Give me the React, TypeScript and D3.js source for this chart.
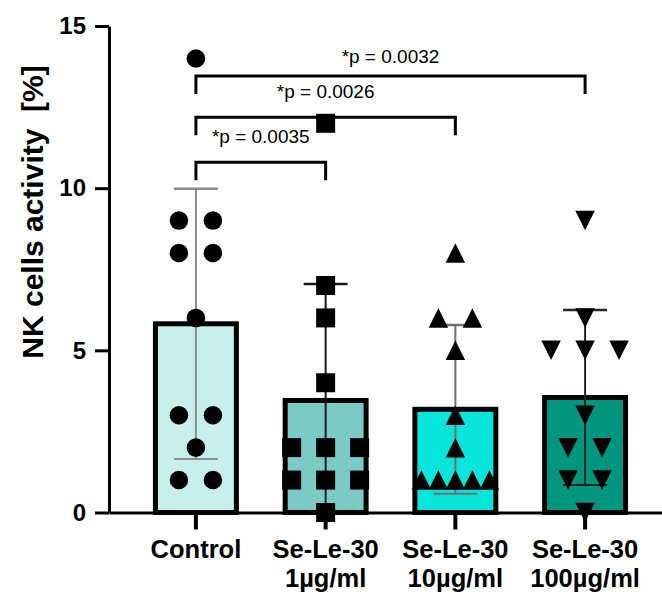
import React, { useRef, useEffect } from "react";
import * as d3 from "d3";

// groups and their two-line axis labels
const groups = ["Control", "Se-Le-30 1µg/ml", "Se-Le-30 10µg/ml", "Se-Le-30 100µg/ml"];
const labelLine1 = ["Control", "Se-Le-30", "Se-Le-30", "Se-Le-30"];
const labelLine2 = ["", "1µg/ml", "10µg/ml", "100µg/ml"];

// individual values
const control = [14, 9, 9, 8, 8, 6, 3, 3, 2, 1, 1];
const se1 = [12, 7, 6, 4, 2, 2, 2, 1, 1, 1, 0];
const se10 = [8, 6, 6, 5, 3, 2, 1, 1, 1, 1, 1];
const se100 = [9, 6, 5, 5, 5, 3, 2, 2, 1, 1, 0];

const yTicks = [0, 5, 10, 15];

// significance brackets
const compFrom = [0, 0, 0];
const compTo = [1, 2, 3];
const compLevel = [10.8, 12.19, 13.46];
const compTextLevel = [11.38, 12.77, 13.85];
const compText = ["*p = 0.0035", "*p = 0.0026", "*p = 0.0032"];

const fills = ["#c6efed", "#7acbc5", "#08e6db", "#00967e"];
const errColors = ["#8c8c8c", "#1a1a1a", "#707070", "#262626"];

const FONT = "'Liberation Sans', Arial, Helvetica, sans-serif";

const triUp = {
    draw(ctx: any, size: number) {
        const w = Math.sqrt(size);
        ctx.moveTo(0, -w / 2);
        ctx.lineTo(w / 2, w / 2);
        ctx.lineTo(-w / 2, w / 2);
        ctx.closePath();
    }
};
const triDown = {
    draw(ctx: any, size: number) {
        const w = Math.sqrt(size);
        ctx.moveTo(0, w / 2);
        ctx.lineTo(w / 2, -w / 2);
        ctx.lineTo(-w / 2, -w / 2);
        ctx.closePath();
    }
};

// spread equal values side by side
const spread = (vals: number[]) => {
    const counts = d3.rollup(vals, v => v.length, d => d);
    const seen = new Map<number, number>();
    return vals.map(v => {
        const k = counts.get(v) as number;
        const i = seen.get(v) ?? 0;
        seen.set(v, i + 1);
        const gap = k >= 4 ? 17 : 34;
        return { v, dx: (i - (k - 1) / 2) * gap };
    });
};

const App = () => {
    const chartRef = useRef<HTMLDivElement>(null);

    useEffect(() => {
        const width = 662;
        const height = 596;
        const series = [control, se1, se10, se100];
        const symbols = [
            d3.symbol(d3.symbolCircle, 270),
            d3.symbol(d3.symbolSquare, 361),
            d3.symbol(triUp as any, 380),
            d3.symbol(triDown as any, 380),
        ];

        const x = d3.scaleBand<string>()
            .domain(groups)
            .range([109, 672])
            .paddingInner(0.376)
            .paddingOuter(0.358);

        const y = d3.scaleLinear()
            .domain([0, 15])
            .range([512.5, 26]);

        const cx = (i: number) => (x(groups[i]) as number) + x.bandwidth() / 2;

        const svg = d3.create("svg")
            .attr("width", width)
            .attr("height", height)
            .attr("viewBox", [0, 0, width, height])
            .style("font-family", FONT);

        // bars
        series.forEach((vals, i) => {
            const m = d3.mean(vals) as number;
            svg.append("rect")
                .attr("x", x(groups[i]) as number)
                .attr("width", x.bandwidth())
                .attr("y", y(m))
                .attr("height", y(0) - y(m))
                .attr("fill", fills[i])
                .attr("stroke", "#000")
                .attr("stroke-width", 5);
        });

        // mean ± SD
        series.forEach((vals, i) => {
            const m = d3.mean(vals) as number;
            const sd = d3.deviation(vals) as number;
            const hi = m + sd;
            const lo = Math.max(0, m - sd);
            const c = cx(i);
            svg.append("line")
                .attr("x1", c).attr("x2", c)
                .attr("y1", y(lo)).attr("y2", y(hi))
                .attr("stroke", errColors[i])
                .attr("stroke-width", 2);
            svg.append("line")
                .attr("x1", c - 22).attr("x2", c + 22)
                .attr("y1", y(hi)).attr("y2", y(hi))
                .attr("stroke", errColors[i])
                .attr("stroke-width", 2.5);
            if (lo > 0) {
                svg.append("line")
                    .attr("x1", c - 22).attr("x2", c + 22)
                    .attr("y1", y(lo)).attr("y2", y(lo))
                    .attr("stroke", errColors[i])
                    .attr("stroke-width", 2);
            }
        });

        // x axis
        svg.append("g")
            .attr("transform", `translate(0,${y(0)})`)
            .call(d3.axisBottom(x).tickSize(17).tickSizeOuter(0).tickFormat(() => ""))
            .call(g => g.select(".domain").attr("stroke-width", 3))
            .call(g => g.selectAll(".tick line").attr("stroke-width", 4));

        // y axis
        svg.append("g")
            .attr("transform", `translate(109,0)`)
            .call(d3.axisLeft(y).tickValues(yTicks).tickSize(14).tickSizeOuter(0).tickPadding(9))
            .call(g => g.select(".domain").attr("stroke-width", 3))
            .call(g => g.selectAll(".tick line").attr("stroke-width", 3))
            .call(g => g.selectAll(".tick text")
                .attr("font-family", FONT)
                .attr("font-size", 24)
                .attr("font-weight", "bold")
                .attr("fill", "#000"));

        // points
        series.forEach((vals, i) => {
            svg.append("g")
                .selectAll("path")
                .data(spread(vals))
                .join("path")
                .attr("transform", d => `translate(${cx(i) + d.dx},${y(d.v)})`)
                .attr("d", symbols[i]())
                .attr("fill", "#000");
        });

        // category labels
        groups.forEach((g, i) => {
            const t = svg.append("text")
                .attr("text-anchor", "middle")
                .attr("font-size", 25.5)
                .attr("font-weight", "bold")
                .attr("fill", "#000");
            t.append("tspan").attr("x", cx(i)).attr("y", 558).text(labelLine1[i]);
            if (labelLine2[i]) t.append("tspan").attr("x", cx(i)).attr("y", 587).text(labelLine2[i]);
        });

        // y label
        svg.append("text")
            .attr("transform", "translate(43,212) rotate(-90)")
            .attr("text-anchor", "middle")
            .attr("font-size", 30)
            .attr("font-weight", "bold")
            .style("white-space", "pre")
            .text("NK cells activity  [%]");

        // significance brackets
        compText.forEach((txt, k) => {
            const a = cx(compFrom[k]);
            const b = cx(compTo[k]);
            const ly = y(compLevel[k]);
            svg.append("path")
                .attr("d", `M${a},${ly + 18}V${ly}H${b}V${ly + 18}`)
                .attr("fill", "none")
                .attr("stroke", "#000")
                .attr("stroke-width", 3);
            svg.append("text")
                .attr("x", (a + b) / 2)
                .attr("y", y(compTextLevel[k]))
                .attr("text-anchor", "middle")
                .attr("font-size", 19)
                .attr("fill", "#000")
                .text(txt);
        });

        chartRef.current!.innerHTML = "";
        chartRef.current!.appendChild(svg.node()!);
    }, []);

    return <div ref={chartRef} style={{ position: "absolute", left: 0, top: 0 }} />;
};

export default App;
